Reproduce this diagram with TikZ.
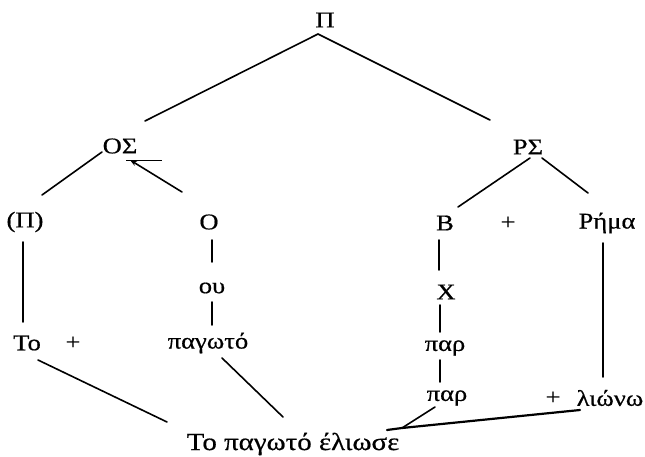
\documentclass[tikz,border=0pt]{standalone}
\usepackage{fontspec}
\setmainfont{Liberation Serif}[FakeStretch=1.18,FakeBold=0.6]
\usetikzlibrary{arrows.meta}
\begin{document}
\begin{tikzpicture}[x=1pt,y=-1pt,
  lbl/.style={inner sep=1pt,font=\fontsize{22.5}{24}\selectfont},
  big lbl/.style={inner sep=1pt,font=\fontsize{24.5}{26}\selectfont},
  conn/.style={line width=1.6pt,line cap=round},
  thick conn/.style={line width=2.2pt,line cap=round}]
\useasboundingbox[fill=white] (0,0) rectangle (645,457);
% nodes
\node[lbl] (P) at (325,20) {Π};
\node[lbl] (OS) at (120,146) {ΟΣ};
\node[lbl] (RS) at (528,147) {ΡΣ};
\node[lbl] (Pp) at (25,222) {(Π)};
\node[lbl] (O) at (209,222) {Ο};
\node[lbl] (B) at (445,223) {Β};
\node[lbl] (plusA) at (508,223) {+};
\node[lbl] (Rima) at (607,223) {Ρήμα};
\node[lbl] (ou) at (212,288) {ου};
\node[lbl] (X) at (446,292) {Χ};
\node[lbl] (To) at (27,343) {Το};
\node[lbl] (plusB) at (73,343) {+};
\node[lbl] (pagoto) at (208,343) {παγωτό};
\node[lbl] (parA) at (445,348) {παρ};
\node[lbl] (parB) at (447,398) {παρ};
\node[lbl] (plusC) at (553,398) {+};
\node[lbl] (lionw) at (610,398) {λιώνω};
\node[big lbl] (sent) at (293,444) {Το παγωτό έλιωσε};
% connectors
\draw[conn] ([shift={(-7,14)}]P.center) -- ([shift={(25,-25)}]OS.center);
\draw[conn] ([shift={(-7,14)}]P.center) -- ([shift={(-38,-27)}]RS.center);
\draw[conn] ([shift={(-18,6)}]OS.center) -- ([shift={(17,-27)}]Pp.center);
\draw[conn,-{Stealth[length=7pt,width=5pt]}] ([shift={(-27,-30)}]O.center) -- ([shift={(10,14)}]OS.center);
\draw[line width=0.9pt] ([shift={(6,14)}]OS.center) -- ([shift={(42,14)}]OS.center);
\draw[conn] ([shift={(2,11)}]RS.center) -- ([shift={(13,-16)}]B.center);
\draw[conn] ([shift={(14,11)}]RS.center) -- ([shift={(-19,-30)}]Rima.center);
\draw[conn] ([shift={(-2,20)}]Pp.center) -- ([shift={(-4,-21)}]To.center);
\draw[conn] ([shift={(3,18)}]O.center) -- ([shift={(0,-26)}]ou.center);
\draw[conn] ([shift={(0,14)}]ou.center) -- ([shift={(4,-18)}]pagoto.center);
\draw[conn] ([shift={(-6,17)}]B.center) -- ([shift={(-7,-22)}]X.center);
\draw[conn] ([shift={(-6,13)}]X.center) -- ([shift={(-5,-16)}]parA.center);
\draw[conn] ([shift={(-5,12)}]parA.center) -- ([shift={(-7,-16)}]parB.center);
\draw[conn] ([shift={(-4,20)}]Rima.center) -- ([shift={(-7,-21)}]lionw.center);
\draw[conn] ([shift={(11,17)}]To.center) -- ([shift={(-126,-22)}]sent.center);
\draw[conn] ([shift={(14,15)}]pagoto.center) -- ([shift={(-10,-27)}]sent.center);
\draw[conn] ([shift={(-12,9)}]parB.center) -- ([shift={(109,-16)}]sent.center);
\draw[thick conn] ([shift={(-30,12)}]lionw.center) -- ([shift={(109,-16)}]sent.center) -- ([shift={(94,-14)}]sent.center);
\end{tikzpicture}
\end{document}
